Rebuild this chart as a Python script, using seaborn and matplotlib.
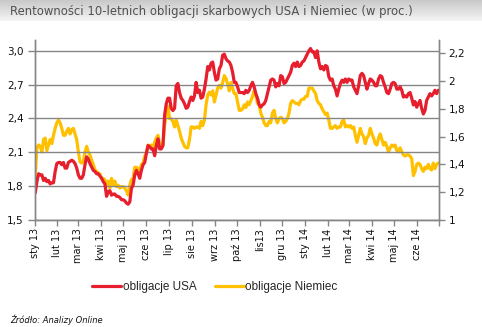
import numpy as np
import pandas as pd
import matplotlib
matplotlib.use("Agg")
import matplotlib.pyplot as plt
import seaborn as sns

# ---- data ----
usa = [
    1.74, 1.84, 1.91, 1.90, 1.90, 1.85, 1.87, 1.84, 1.85, 1.82, 1.83, 1.83, 1.93, 2.00, 2.01, 2.01,
    1.99, 2.01, 1.96, 1.96, 2.01, 2.02, 2.03, 2.02, 2.00, 1.96, 1.90, 1.87, 1.87, 1.90, 1.99, 2.06,
    2.04, 2.00, 1.97, 1.94, 1.93, 1.91, 1.91, 1.89, 1.87, 1.84, 1.82, 1.71, 1.75, 1.76, 1.72, 1.73,
    1.73, 1.71, 1.71, 1.70, 1.68, 1.68, 1.67, 1.65, 1.64, 1.66, 1.78, 1.81, 1.90,
    # lip-wrz 13
    1.94, 1.91, 1.87, 1.94, 1.99, 2.01, 2.09, 2.16, 2.15, 2.13, 2.13, 2.07, 2.16, 2.22, 2.13, 2.13,
    2.16, 2.43, 2.53, 2.58, 2.58, 2.49, 2.47, 2.49, 2.69, 2.71, 2.63, 2.58, 2.56, 2.53, 2.49, 2.50,
    2.55, 2.59, 2.56, 2.60, 2.72, 2.63, 2.65, 2.58, 2.59, 2.66, 2.75, 2.86, 2.83, 2.89, 2.90, 2.81,
    2.74, 2.75, 2.84, 2.87, 2.96, 2.97, 2.93, 2.91, 2.90, 2.87, 2.81, 2.72,
    # paz 13 - sty 14
    2.72, 2.68, 2.63, 2.63, 2.63, 2.62, 2.65, 2.63, 2.65, 2.69, 2.72, 2.68, 2.62, 2.58, 2.52, 2.50,
    2.52, 2.53, 2.56, 2.62, 2.68, 2.74, 2.75, 2.74, 2.68, 2.71, 2.69, 2.78, 2.77, 2.71, 2.72, 2.75,
    2.78, 2.81, 2.87, 2.89, 2.86, 2.90, 2.86, 2.87, 2.90, 2.91, 2.94, 2.97, 3.00, 3.02, 2.99, 2.99,
    2.94, 3.00, 2.90, 2.84, 2.86, 2.83, 2.87, 2.86, 2.77, 2.74, 2.75, 2.69,
    # lut - cze 14
    2.66, 2.60, 2.66, 2.71, 2.74, 2.72, 2.75, 2.72, 2.75, 2.74, 2.74, 2.68, 2.65, 2.62, 2.69, 2.78,
    2.80, 2.78, 2.72, 2.66, 2.71, 2.75, 2.74, 2.72, 2.69, 2.69, 2.75, 2.78, 2.77, 2.72, 2.68, 2.63,
    2.62, 2.66, 2.71, 2.72, 2.71, 2.66, 2.66, 2.68, 2.65, 2.59, 2.60, 2.59, 2.62, 2.63, 2.58, 2.52,
    2.55, 2.50, 2.53, 2.56, 2.49, 2.44, 2.47, 2.56, 2.59, 2.62, 2.60, 2.62, 2.65, 2.62, 2.65,
]

niemcy = [
    1.31, 1.52, 1.54, 1.53, 1.49, 1.58, 1.59, 1.50, 1.54, 1.58, 1.55, 1.61, 1.66, 1.70, 1.72, 1.70,
    1.66, 1.61, 1.61, 1.64, 1.66, 1.62, 1.65, 1.66, 1.62, 1.58, 1.49, 1.42, 1.41, 1.42, 1.49, 1.53,
    1.49, 1.47, 1.43, 1.40, 1.36, 1.35, 1.34, 1.33, 1.30, 1.30, 1.29, 1.25, 1.28, 1.23, 1.30, 1.25,
    1.28, 1.24, 1.25, 1.23, 1.24, 1.24, 1.23, 1.21, 1.18, 1.25, 1.29, 1.30, 1.38,
    # lip-wrz 13
    1.38, 1.37, 1.35, 1.40, 1.41, 1.46, 1.48, 1.54, 1.53, 1.54, 1.52, 1.56, 1.59, 1.61, 1.55, 1.52,
    1.54, 1.68, 1.76, 1.82, 1.73, 1.73, 1.71, 1.67, 1.72, 1.68, 1.64, 1.59, 1.56, 1.53, 1.52, 1.52,
    1.58, 1.67, 1.67, 1.66, 1.67, 1.67, 1.66, 1.71, 1.68, 1.72, 1.83, 1.90, 1.92, 1.90, 1.93, 1.85,
    1.90, 1.95, 1.97, 1.95, 1.99, 2.04, 2.02, 1.98, 1.93, 1.99, 1.95, 1.91,
    # paz 13 - sty 14
    1.91, 1.85, 1.79, 1.79, 1.80, 1.83, 1.81, 1.85, 1.83, 1.86, 1.89, 1.93, 1.90, 1.84, 1.83, 1.77,
    1.74, 1.70, 1.68, 1.68, 1.71, 1.70, 1.77, 1.79, 1.73, 1.70, 1.73, 1.74, 1.73, 1.70, 1.71, 1.73,
    1.77, 1.84, 1.86, 1.85, 1.84, 1.84, 1.83, 1.86, 1.87, 1.87, 1.89, 1.89, 1.95, 1.95, 1.95, 1.93,
    1.91, 1.86, 1.84, 1.83, 1.80, 1.78, 1.76, 1.77, 1.72, 1.66, 1.66, 1.67,
    # lut - cze 14
    1.68, 1.66, 1.67, 1.67, 1.71, 1.72, 1.67, 1.68, 1.67, 1.68, 1.66, 1.67, 1.61, 1.56, 1.61, 1.66,
    1.62, 1.60, 1.55, 1.59, 1.61, 1.66, 1.62, 1.59, 1.55, 1.54, 1.59, 1.62, 1.58, 1.54, 1.56, 1.53,
    1.49, 1.52, 1.54, 1.53, 1.54, 1.50, 1.49, 1.52, 1.49, 1.47, 1.46, 1.47, 1.47, 1.46, 1.44, 1.32,
    1.35, 1.40, 1.41, 1.40, 1.37, 1.35, 1.38, 1.37, 1.40, 1.37, 1.36, 1.41, 1.37, 1.40, 1.41,
]

month_labels = ['sty 13', 'lut 13', 'mar 13', 'kwi 13', 'maj 13', 'cze 13', 'lip 13', 'sie 13',
                'wrz 13', 'paź 13', 'lis13', 'gru 13', 'sty 14', 'lut 14', 'mar 14', 'kwi 14',
                'maj 14', 'cze 14']

left_ticks = [1.5, 1.8, 2.1, 2.4, 2.7, 3.0]
right_ticks = [1.0, 1.2, 1.4, 1.6, 1.8, 2.0, 2.2]

title = "Rentowności 10-letnich obligacji skarbowych USA i Niemiec (w proc.)"
source = "Źródło: Analizy Online"

# ---- build frame ----
n = min(len(usa), len(niemcy))
dates = pd.date_range("2013-01-02", "2014-06-30", periods=n)
df = pd.DataFrame({"data": dates, "usa": usa[:n], "de": niemcy[:n]})

RED = "#E61E2D"
YEL = "#FFC000"
GRID = "#868686"

sns.set_theme(style="white")
plt.rcParams["font.family"] = ["DejaVu Sans"]

fig = plt.figure(figsize=(4.82, 3.27), dpi=100)

# title banner gradient
bg = fig.add_axes([0, 1 - 21 / 327, 1, 21 / 327], zorder=-5)
grad = np.linspace(0, 1, 50).reshape(-1, 1)
bg.imshow(grad, aspect="auto", cmap=matplotlib.colors.LinearSegmentedColormap.from_list(
    "g", ["#c9c9c9", "#f4f4f4"]), extent=[0, 1, 0, 1])
bg.axis("off")
fig.text(10 / 482, 1 - 12 / 327, title, fontsize=8.4, color="#505050", va="center", ha="left")

L, R, T, B = 34.5, 439, 39.5, 220
ax = fig.add_axes([L / 482, 1 - B / 327, (R - L) / 482, (B - T) / 327])
ax2 = ax.twinx()

sns.lineplot(data=df, x="data", y="usa", ax=ax, color=RED, linewidth=2.3, label="obligacje USA",
             legend=False)
sns.lineplot(data=df, x="data", y="de", ax=ax2, color=YEL, linewidth=2.3, label="obligacje Niemiec",
             legend=False)
ax.set_zorder(ax2.get_zorder() + 1)
ax.patch.set_visible(False)

ax.set_ylim(1.5, 3.1)
ax2.set_ylim(1.0, 2.3)
ax.set_xlim(pd.Timestamp("2013-01-01"), pd.Timestamp("2014-07-01"))

ax.set_yticks(left_ticks)
ax.set_yticklabels([f"{v:.1f}".replace(".", ",") for v in left_ticks])
ax2.set_yticks(right_ticks)
ax2.set_yticklabels([("%g" % v).replace(".", ",") for v in right_ticks])

ticks = pd.date_range("2013-01-01", "2014-07-01", freq="MS")
ax.set_xticks(ticks)
ax.set_xticklabels(month_labels + [""], rotation=90)

ax.grid(axis="y", color=GRID, linewidth=1.0)
ax.set_axisbelow(True)
ax2.grid(False)
ax.set_xlabel("")
ax.set_ylabel("")
ax2.set_ylabel("")

for a in (ax, ax2):
    for s in a.spines.values():
        s.set_color(GRID)
        s.set_linewidth(1.0)
    a.spines["top"].set_visible(False)

ax.tick_params(axis="y", direction="out", length=5, width=1, color=GRID, labelsize=7.5,
               labelcolor="#111111", pad=3, left=True)
ax.tick_params(axis="x", direction="out", length=4, width=1, color=GRID, labelsize=7,
               labelcolor="#111111", pad=2, bottom=True)
ax2.tick_params(axis="y", direction="out", length=4, width=1, color=GRID, labelsize=7.5,
                labelcolor="#111111", pad=3, right=True)

# legend
h1, l1 = ax.get_legend_handles_labels()
h2, l2 = ax2.get_legend_handles_labels()
fig.legend(h1 + h2, l1 + l2, loc="center", bbox_to_anchor=(215 / 482, 1 - 287 / 327), ncol=2,
           frameon=False, handlelength=2.4, handletextpad=0.15, columnspacing=1.6,
           prop={"family": "Liberation Sans", "size": 8.5})

fig.text(10 / 482, 1 - 320 / 327, source, fontsize=6, style="italic", color="#111111",
         va="center", ha="left")

fig.savefig("out.png", dpi=100)
